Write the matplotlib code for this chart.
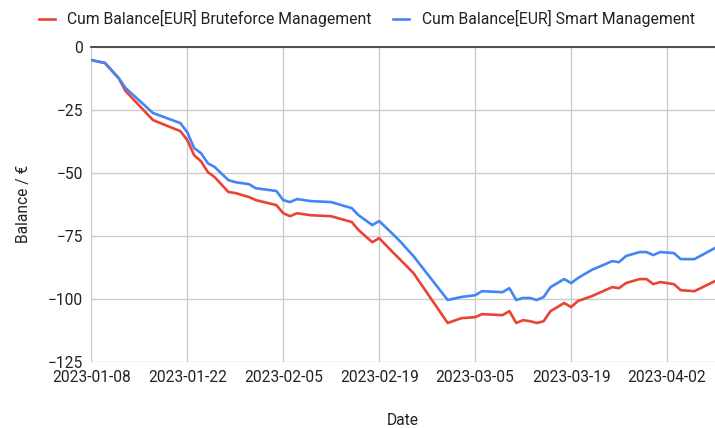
import matplotlib
matplotlib.use("Agg")
import matplotlib.pyplot as plt
import matplotlib.dates as mdates
import pandas as pd

# values
dates = ["2023-01-08", "2023-01-10", "2023-01-12", "2023-01-13", "2023-01-17",
         "2023-01-21", "2023-01-22", "2023-01-23", "2023-01-24", "2023-01-25",
         "2023-01-26", "2023-01-28", "2023-01-29", "2023-01-31", "2023-02-01",
         "2023-02-04", "2023-02-05", "2023-02-06", "2023-02-07", "2023-02-09",
         "2023-02-12", "2023-02-15", "2023-02-16", "2023-02-18", "2023-02-19",
         "2023-02-21", "2023-02-22", "2023-02-24", "2023-03-01", "2023-03-03",
         "2023-03-05", "2023-03-06", "2023-03-09", "2023-03-10", "2023-03-11",
         "2023-03-12", "2023-03-13", "2023-03-14", "2023-03-15", "2023-03-16",
         "2023-03-18", "2023-03-19", "2023-03-20", "2023-03-22", "2023-03-25",
         "2023-03-26", "2023-03-27", "2023-03-29", "2023-03-30", "2023-03-31",
         "2023-04-01", "2023-04-03", "2023-04-04", "2023-04-06", "2023-04-09"]

bruteforce = [-5.3, -6.5, -12.5, -17.6, -29.1,
              -33.5, -37.0, -43.0, -45.4, -49.7,
              -51.7, -57.6, -58.0, -59.6, -60.8,
              -62.8, -66.0, -67.2, -66.0, -66.8,
              -67.2, -69.5, -72.7, -77.5, -75.9,
              -81.5, -84.2, -89.7, -109.5, -107.6,
              -107.2, -106.0, -106.4, -104.8, -109.5,
              -108.4, -108.8, -109.5, -108.8, -104.8,
              -101.6, -103.2, -100.8, -98.9, -95.3,
              -95.7, -93.7, -92.1, -92.1, -94.1,
              -93.3, -94.1, -96.5, -96.9, -92.9]

smart = [-5.3, -6.5, -12.5, -16.4, -26.3,
         -30.3, -33.9, -40.2, -42.2, -46.2,
         -47.7, -52.9, -53.7, -54.5, -56.1,
         -57.2, -60.8, -61.6, -60.4, -61.2,
         -61.6, -64.0, -66.8, -70.7, -69.1,
         -74.3, -77.0, -83.0, -100.4, -99.2,
         -98.5, -96.9, -97.3, -95.7, -100.4,
         -99.6, -99.6, -100.4, -99.2, -95.3,
         -92.1, -93.7, -91.7, -88.5, -85.0,
         -85.4, -83.0, -81.4, -81.4, -82.6,
         -81.4, -81.8, -84.2, -84.2, -79.8]

tick_dates = ["2023-01-08", "2023-01-22", "2023-02-05", "2023-02-19",
              "2023-03-05", "2023-03-19", "2023-04-02"]
y_ticks = [0, -25, -50, -75, -100, -125]

plt.rcParams['font.family'] = ['Roboto', 'DejaVu Sans']

x = pd.to_datetime(dates)

fig = plt.figure(figsize=(7.15, 4.28), dpi=100)
ax = fig.add_axes([0.1277, 0.154, 0.8723, 0.737])

ax.plot(x, bruteforce, color='#ea4335', lw=1.9, label='Cum Balance[EUR] Bruteforce Management',
        solid_joinstyle='round')
ax.plot(x, smart, color='#4285f4', lw=1.9, label='Cum Balance[EUR] Smart Management',
        solid_joinstyle='round')

ax.set_xlim(x[0], x[-1])
ax.set_ylim(-125, 0)
ax.set_yticks(y_ticks)
ax.set_xticks(pd.to_datetime(tick_dates))
ax.xaxis.set_major_formatter(mdates.DateFormatter('%Y-%m-%d'))

ax.grid(True, color='#cccccc', lw=1)
ax.set_axisbelow(True)
for s in ['left', 'right', 'bottom']:
    ax.spines[s].set_visible(False)
ax.spines['top'].set_color('#333333')
ax.spines['top'].set_linewidth(1.2)
ax.tick_params(length=0, labelsize=11.2, colors='#222222', pad=6)

ax.set_xlabel('Date', fontsize=11.2, color='#222222', labelpad=20)
ax.set_ylabel('Balance / €', fontsize=11.2, color='#222222', labelpad=12)

fig.legend(loc='upper center', bbox_to_anchor=(0.513, 1.01), ncol=2, frameon=False,
           fontsize=11.3, handlelength=1.0, handleheight=0.3, columnspacing=1.4,
           labelcolor='#222222')

fig.savefig('out.png', dpi=100)
